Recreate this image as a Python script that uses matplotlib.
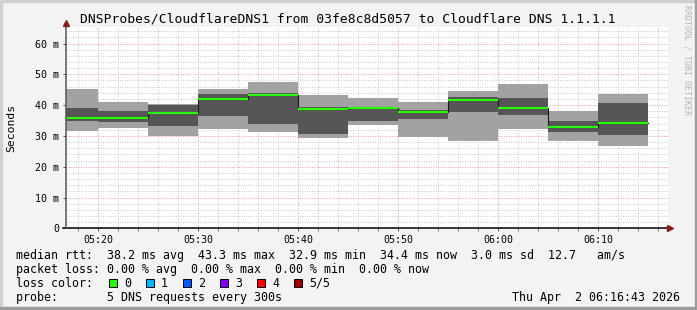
import numpy as np
import matplotlib
matplotlib.use("Agg")
import matplotlib.pyplot as plt
from matplotlib.patches import Rectangle

plt.rcParams['font.family'] = ['DejaVu Sans Mono']

# data: one bar per 5-minute step (end time), values in ms
bar_end = ["05:20", "05:25", "05:30", "05:35", "05:40", "05:45",
           "05:50", "05:55", "06:00", "06:05", "06:10", "06:15"]
ping_max = [45.3, 41.0, 40.2, 45.3, 47.6, 43.3, 42.3, 41.0, 44.6, 46.9, 38.1, 43.6]
ping_hi  = [39.2, 38.1, 40.0, 43.6, 43.8, 39.3, 39.5, 38.3, 42.6, 42.4, 34.8, 40.7]
median   = [35.8, 35.9, 37.4, 42.0, 43.3, 38.8, 39.2, 37.8, 41.8, 39.2, 32.9, 34.2]
ping_lo  = [34.7, 34.5, 33.3, 36.5, 34.0, 30.6, 34.9, 35.6, 37.8, 36.9, 31.4, 30.3]
ping_min = [31.6, 32.7, 30.0, 32.2, 31.4, 29.4, 33.6, 29.7, 28.4, 32.2, 28.3, 26.7]

tick_labels = ["05:20", "05:30", "05:40", "05:50", "06:00", "06:10"]
loss_labels = ["0", "1", "2", "3", "4", "5/5"]
loss_colors = ["#26ff00", "#00b8ff", "#0059ff", "#7e00ff", "#ff0000", "#a10000"]

title = "DNSProbes/CloudflareDNS1 from 03fe8c8d5057 to Cloudflare DNS 1.1.1.1"
rtt_line = "median rtt:  38.2 ms avg  43.3 ms max  32.9 ms min  34.4 ms now  3.0 ms sd  12.7   am/s"
loss_line = "packet loss: 0.00 % avg  0.00 % max  0.00 % min  0.00 % now"
probe_line = "probe:       5 DNS requests every 300s"
date_line = "Thu Apr  2 06:16:43 2026"


def minutes(hhmm):
    h, m = hhmm.split(":")
    return int(h) * 60 + int(m)


W, H = 697, 310
fig = plt.figure(figsize=(W / 100, H / 100), dpi=100)
fig.patch.set_facecolor("#f3f3f3")


def px(x, y):
    return x / W, 1 - y / H


# frame round the image
fig.patches.append(Rectangle((0, 1 - 2 / H), 1, 2 / H, transform=fig.transFigure, color="#cfcfcf"))
fig.patches.append(Rectangle((0, 0), 2 / W, 1, transform=fig.transFigure, color="#cfcfcf"))
fig.patches.append(Rectangle((1 - 2 / W, 0), 2 / W, 1, transform=fig.transFigure, color="#9c9c9c"))
fig.patches.append(Rectangle((0, 0), 1, 3 / H, transform=fig.transFigure, color="#9c9c9c"))

left, right, top, bottom = 66, 668, 27, 228.3
ax = fig.add_axes([left / W, 1 - bottom / H, (right - left) / W, (bottom - top) / H])
ax.set_facecolor("white")

# x scale: 10 px per minute, 05:20 sits at x=98.3
x0 = minutes("05:20")
ax.set_xlim(x0 - (98.3 - left) / 10, x0 + (right - 98.3) / 10)
ax.set_ylim(0, (bottom - top) / 3.08)

# dotted grid
for t in np.arange(316, 378, 2):
    major = t % 10 == 0
    ax.axvline(t, color="#f09a9a" if major else "#c8c8c8", lw=0.7,
               linestyle=(0, (1, 1.5)), zorder=0)
for v in np.arange(2, 66, 2):
    major = v % 10 == 0
    ax.axhline(v, color="#f09a9a" if major else "#c8c8c8", lw=0.7,
               linestyle=(0, (1, 1.5)), zorder=0)

ends = np.array([minutes(b) for b in bar_end], dtype=float)
starts = ends - 5
widths = ends - starts

# smoke
ax.bar(starts, np.array(ping_max) - np.array(ping_min), width=widths, bottom=ping_min,
       align="edge", color="#a2a2a2", linewidth=0, zorder=2)
ax.bar(starts, np.array(ping_hi) - np.array(ping_lo), width=widths, bottom=ping_lo,
       align="edge", color="#565656", linewidth=0, zorder=3)

# median
ax.step(np.append(starts, ends[-1]), np.append(median, median[-1]), where="post",
        color="#1a1a1a", lw=0.8, zorder=4)
ax.hlines(median, starts, ends, color=loss_colors[0], lw=1.5, zorder=5)

for s in ax.spines.values():
    s.set_visible(False)

# axes with arrows
ax.plot([ax.get_xlim()[0] - 0.35, ax.get_xlim()[1] + 0.1], [0, 0], color="black", lw=1.1,
        clip_on=False, zorder=6)
ax.plot([ax.get_xlim()[0]] * 2, [0, ax.get_ylim()[1] + 0.6], color="#555555", lw=1.1,
        clip_on=False, zorder=6)
ax.plot(ax.get_xlim()[1] + 0.2, 0, marker=">", color="#8b1a1a", ms=4, clip_on=False, zorder=7)
ax.plot(ax.get_xlim()[0], ax.get_ylim()[1] + 1.3, marker="^", color="#8b1a1a", ms=4,
        clip_on=False, zorder=7)

ax.set_xticks([minutes(t) for t in tick_labels])
ax.set_xticklabels(tick_labels)
ax.set_xticks(np.arange(318, 378, 2), minor=True)
ax.set_yticks(np.arange(0, 70, 10))
ax.set_yticklabels(["0"] + [f"{v} m" for v in range(10, 70, 10)])
ax.tick_params(axis="x", which="major", length=2.5, width=0.7, color="#555555",
               labelsize=7.2, pad=2.5)
ax.tick_params(axis="x", which="minor", length=1.8, width=0.7, color="#777777")
ax.tick_params(axis="y", length=2.5, width=0.7, color="#555555", labelsize=7.2, pad=2.5)

fig.text(*px(11, 127.5), "Seconds", rotation=90, ha="center", va="center", fontsize=8.2)
fig.text(*px(348, 23), title, ha="center", va="baseline", fontsize=9.4)
fig.text(*px(687.5, 5), "RRDTOOL / TOBI OETIKER", rotation=270, ha="center", va="top",
         fontsize=6, color="#b4b4b4")

legend_size = 8.4
fig.text(*px(16, 258.7), rtt_line, ha="left", va="baseline", fontsize=legend_size)
fig.text(*px(16, 272.7), loss_line, ha="left", va="baseline", fontsize=legend_size)
fig.text(*px(16, 286.7), "loss color:", ha="left", va="baseline", fontsize=legend_size)
fig.text(*px(16, 300.5), probe_line, ha="left", va="baseline", fontsize=legend_size)
fig.text(*px(680.5, 300.5), date_line, ha="right", va="baseline", fontsize=legend_size)

for i, (lab, col) in enumerate(zip(loss_labels, loss_colors)):
    sx = 108.5 + i * 37
    fig.patches.append(Rectangle(px(sx, 286.5), 8 / W, 8 / H, transform=fig.transFigure,
                                 facecolor=col, edgecolor="black", lw=0.7))
    fig.text(*px(sx + 15.5, 286.7), lab, ha="left", va="baseline", fontsize=legend_size)

fig.savefig("out.png", dpi=100, facecolor=fig.get_facecolor())
